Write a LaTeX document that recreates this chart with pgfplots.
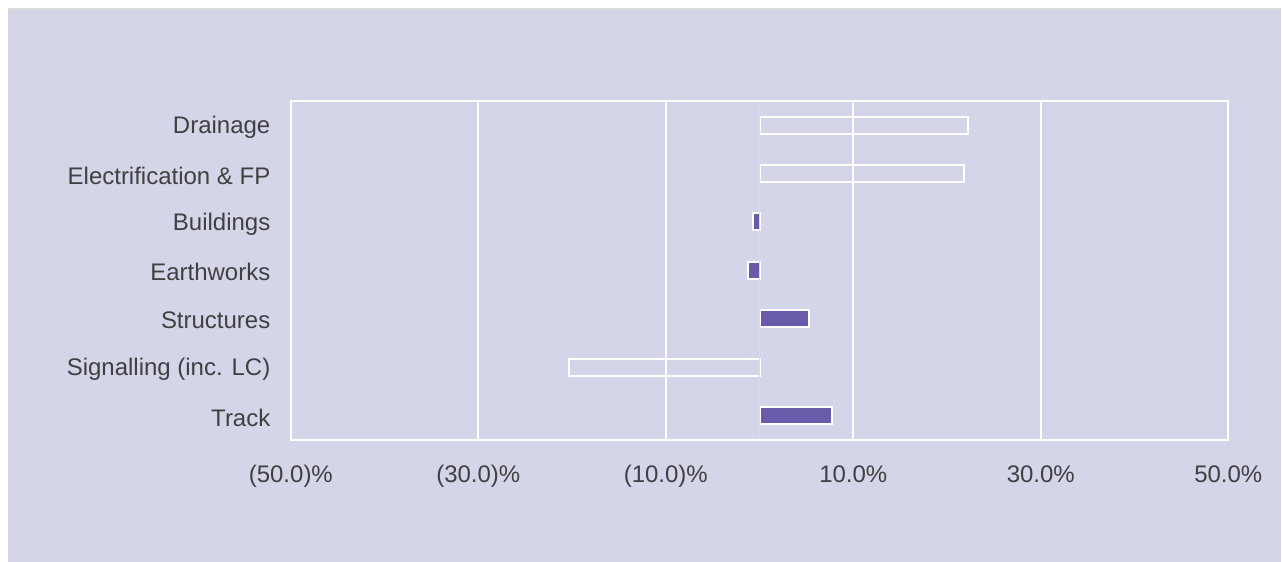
\documentclass[border=0pt]{standalone}
\usepackage{pgfplots}
\pgfplotsset{compat=1.18}
\usepackage{fontspec}
\setmainfont{Liberation Sans}
\definecolor{bg}{HTML}{D5D5EA}
\definecolor{bar}{HTML}{6A5AAA}
\definecolor{txt}{HTML}{404040}
\definecolor{zl}{HTML}{DCDCDC}
\begin{document}
\begin{tikzpicture}[x=1pt,y=1pt]
\fill[white] (0,0) rectangle (1282,562);
\fill[bg] (8,0) rectangle (1282,553);
\draw[zl, line width=1.5pt] (8,553) -- (1282,553);
\begin{axis}[
  at={(291pt,122pt)}, anchor=south west,
  scale only axis, width=938pt, height=339pt,
  xmin=-50, xmax=50, ymin=-0.5, ymax=6.5,
  xtick={-50,-30,-10,10,30,50},
  xticklabels={(50.0)\%,(30.0)\%,(10.0)\%,10.0\%,30.0\%,50.0\%},
  ytick={0,1,2,3,4,5,6},
  yticklabels={Track,Signalling (inc. LC),Structures,Earthworks,Buildings,Electrification \& FP,Drainage},
  major tick length=0pt,
  xmajorgrids, grid style={white, line width=2pt},
  axis line style={white, line width=2pt},
  ticklabel style={font=\fontsize{24}{28}\selectfont, text=txt},
  xticklabel style={yshift=-22pt},
  yticklabel style={xshift=-17pt, yshift=-2pt},
  xbar, bar width=17pt, bar shift=0pt,
  clip=false,
]
\addplot[fill=none, draw=white, line width=2pt] coordinates {(22.2,6) (21.8,5) (-20.3,1)};
\addplot[fill=bar, draw=white, line width=2pt] coordinates {(-0.75,4) (-1.2,3) (5.3,2) (7.7,0)};
\draw[zl, line width=1.5pt] (axis cs:0,-0.48) -- (axis cs:0,6.48);
\end{axis}
\end{tikzpicture}
\end{document}
